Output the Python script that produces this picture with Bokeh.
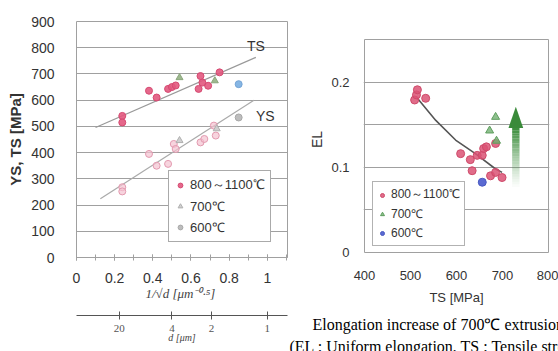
import numpy as np
from bokeh.plotting import figure
from bokeh.layouts import row
from bokeh.models import (Range1d, FixedTicker, LinearAxis, Legend, LegendItem,
                          Label, Title)
from bokeh.embed import file_html
from bokeh.resources import INLINE

# ---------------- data: left panel (strength vs 1/sqrt(d)) ----------------
X_TICKS = [0, 0.2, 0.4, 0.6, 0.8, 1]
X_TICK_LABELS = ["0", "0.2", "0.4", "0.6", "0.8", "1"]
Y_TICKS = [0, 100, 200, 300, 400, 500, 600, 700, 800, 900]
D_TICKS = [20, 4, 2, 1]          # grain size d [um] on the secondary axis

TS_800_X = [0.24, 0.24, 0.38, 0.42, 0.48, 0.50, 0.52, 0.64, 0.66, 0.65, 0.69, 0.75]
TS_800_Y = [540, 515, 636, 610, 643, 650, 656, 643, 667, 692, 655, 706]
TS_700_X = [0.54, 0.725]
TS_700_Y = [686, 674]
TS_600_X = [0.85]
TS_600_Y = [661]

YS_800_X = [0.24, 0.24, 0.38, 0.42, 0.48, 0.51, 0.52, 0.65, 0.67, 0.72, 0.73]
YS_800_Y = [268, 252, 395, 350, 357, 433, 414, 439, 452, 503, 465]
YS_700_X = [0.54, 0.735]
YS_700_Y = [446, 491]
YS_600_X = [0.85]
YS_600_Y = [534]

TS_FIT_X = [0.10, 0.94]
TS_FIT_Y = [496, 763]
YS_FIT_X = [0.125, 0.93]
YS_FIT_Y = [224, 600]

# ---------------- data: right panel (EL vs TS) ----------------
TS_MIN, TS_MAX = 400, 800
EL_MIN, EL_MAX = 0.0, 0.25
TS_AX_TICKS = [400, 500, 600, 700, 800]
EL_TICKS = [0, 0.1, 0.2]
EL_TICK_LABELS = ["0", "0.1", "0.2"]
EL_GRID = [0.05, 0.1, 0.15, 0.2]

EL_800_TS = [509, 513, 515, 533, 609, 630, 634, 645, 656, 659, 665, 674, 685, 685, 699]
EL_800_EL = [0.179, 0.185, 0.191, 0.181, 0.116, 0.109, 0.096, 0.114, 0.114, 0.122,
             0.124, 0.090, 0.128, 0.094, 0.088]
EL_700_TS = [672, 685, 687]
EL_700_EL = [0.143, 0.159, 0.131]
EL_600_TS = [656]
EL_600_EL = [0.0825]

EL_FIT_TS = [515, 555, 598, 641, 685, 699]
EL_FIT_EL = [0.181, 0.155, 0.132, 0.116, 0.098, 0.094]

ARROW_TS = 729
ARROW_EL_BOTTOM = 0.074
ARROW_EL_HEAD = 0.146
ARROW_EL_TOP = 0.171

LEG = ["800～1100℃", "700℃", "600℃"]
CAPTION_1 = "Elongation increase of 700℃ extrusion"
CAPTION_2 = "(EL : Uniform elongation, TS : Tensile strength)"

SANS = "Liberation Sans"
SERIF = "Liberation Serif"
GRID = "#a0a0a0"
TXT = "#333333"

# shared vertical layout of both canvases (frames 21..257 on the page)
H, TOP, BOTTOM = 351, 21, 94

# =================== left figure ===================
p1 = figure(width=288, height=H, x_range=Range1d(0, 1.106), y_range=Range1d(0, 900),
            output_backend="svg", toolbar_location=None, title=None,
            min_border_left=76, min_border_right=1, min_border_top=TOP,
            min_border_bottom=BOTTOM)
p1.outline_line_color = GRID
p1.xgrid.visible = False
p1.ygrid.ticker = FixedTicker(ticks=Y_TICKS[1:])
p1.ygrid.grid_line_color = GRID

ya = p1.yaxis[0]
ya.ticker = FixedTicker(ticks=Y_TICKS)
ya.axis_line_color = None
ya.major_tick_line_color = None
ya.minor_tick_line_color = None
ya.major_label_standoff = 16
ya.major_label_text_font = SANS
ya.major_label_text_font_size = "14px"
ya.major_label_text_color = TXT
ya.axis_label = "YS, TS [MPa]"
ya.axis_label_text_font = SANS
ya.axis_label_text_font_size = "15px"
ya.axis_label_text_font_style = "bold"
ya.axis_label_text_color = TXT
ya.axis_label_standoff = 4

xa = p1.xaxis[0]
xa.ticker = FixedTicker(ticks=X_TICKS, minor_ticks=[round(0.1 * i, 1) for i in range(12)])
xa.major_label_overrides = dict(zip(X_TICKS, X_TICK_LABELS))
xa.axis_line_color = GRID
xa.major_tick_line_color = GRID
xa.minor_tick_line_color = GRID
xa.major_tick_in = 3
xa.major_tick_out = 3
xa.minor_tick_in = 3
xa.minor_tick_out = 3
xa.major_label_standoff = 12
xa.major_label_text_font = SANS
xa.major_label_text_font_size = "14px"
xa.major_label_text_color = TXT
xa.axis_label = "1/√d  [μm⁻⁰·⁵]"
xa.axis_label_text_font = SERIF
xa.axis_label_text_font_size = "13px"
xa.axis_label_text_font_style = "italic"
xa.axis_label_text_color = "#444444"
xa.axis_label_standoff = 0

spacer = LinearAxis(ticker=FixedTicker(ticks=[]), axis_line_color=None,
                    major_tick_line_color=None, minor_tick_line_color=None,
                    major_tick_out=0, major_label_standoff=0,
                    axis_label=" ", axis_label_text_font_size="8px",
                    axis_label_standoff=0)
p1.add_layout(spacer, "below")

d_pos = [1 / np.sqrt(d) for d in D_TICKS]
da = LinearAxis(ticker=FixedTicker(ticks=d_pos, minor_ticks=[]))
da.major_label_overrides = {pos: str(d) for pos, d in zip(d_pos, D_TICKS)}
da.axis_line_color = "#555555"
da.major_tick_line_color = "#555555"
da.major_tick_in = 4
da.major_tick_out = 4
da.major_label_standoff = 5
da.major_label_text_font = SERIF
da.major_label_text_font_size = "11px"
da.major_label_text_color = "#555555"
da.axis_label = "d [μm]"
da.axis_label_text_font = SERIF
da.axis_label_text_font_size = "10px"
da.axis_label_text_font_style = "italic"
da.axis_label_text_color = "#444444"
da.axis_label_standoff = -3
p1.add_layout(da, "below")

p1.line(TS_FIT_X, TS_FIT_Y, line_color="#999999", line_width=1.2)
p1.line(YS_FIT_X, YS_FIT_Y, line_color="#aaaaaa", line_width=1.2)

r_ys800 = p1.scatter(YS_800_X, YS_800_Y, marker="circle", size=7, fill_color="#f3c2d0",
                     line_color="#e39ab0", fill_alpha=0.7)
r_ys700 = p1.scatter(YS_700_X, YS_700_Y, marker="triangle", size=7, fill_color="#d0d0d0",
                     line_color="#b0b0b0")
r_ys600 = p1.scatter(YS_600_X, YS_600_Y, marker="circle", size=7, fill_color="#bdbdbd",
                     line_color="#a8a8a8")
r_ts800 = p1.scatter(TS_800_X, TS_800_Y, marker="circle", size=7, fill_color="#e2587e",
                     line_color="#d64a72", fill_alpha=0.9)
p1.scatter(TS_700_X, TS_700_Y, marker="triangle", size=7, fill_color="#9db88e",
           line_color="#8aa67c")
p1.scatter(TS_600_X, TS_600_Y, marker="circle", size=7, fill_color="#86b6e4",
           line_color="#74a4d6")

p1.add_layout(Label(x=TS_FIT_X[-1], y=807, text="TS", text_font=SANS,
                    text_font_size="14px", text_color=TXT, text_align="center",
                    text_baseline="middle"))
p1.add_layout(Label(x=0.99, y=541, text="YS", text_font=SANS,
                    text_font_size="14px", text_color=TXT, text_align="center",
                    text_baseline="middle"))

leg1 = Legend(items=[LegendItem(label=LEG[0], renderers=[r_ts800]),
                     LegendItem(label=LEG[1], renderers=[r_ys700]),
                     LegendItem(label=LEG[2], renderers=[r_ys600])],
              location=(92, 15), orientation="vertical",
              label_text_font=SANS, label_text_font_size="13px", label_text_color=TXT,
              label_height=18, glyph_height=14, glyph_width=12, spacing=3, padding=5,
              margin=0, label_standoff=4, border_line_color="#555555",
              background_fill_color="white", background_fill_alpha=1)
p1.add_layout(leg1, "center")

# =================== right figure ===================
# the EL box sits 18 px below the shared frame top and 5 px above its bottom
EL_PX = 852.0                     # pixels per unit EL
TS_PX = 0.46                      # pixels per MPa
y_lo = EL_MIN - 5 / EL_PX
y_hi = EL_MAX + 18 / EL_PX
x_lo = TS_MIN - 1 / TS_PX
x_hi = TS_MAX + 1 / TS_PX

p2 = figure(width=270, height=H, x_range=Range1d(x_lo, x_hi), y_range=Range1d(y_lo, y_hi),
            output_backend="svg", toolbar_location=None, title=None,
            min_border_left=75, min_border_right=9, min_border_top=TOP,
            min_border_bottom=BOTTOM)
p2.outline_line_color = None
p2.xgrid.visible = False
p2.ygrid.ticker = FixedTicker(ticks=EL_GRID)
p2.ygrid.grid_line_color = GRID
p2.quad(left=[TS_MIN], right=[TS_MAX], bottom=[EL_MIN], top=[EL_MAX],
        fill_color=None, line_color=GRID, line_width=1)

ya2 = p2.yaxis[0]
ya2.ticker = FixedTicker(ticks=EL_TICKS)
ya2.major_label_overrides = dict(zip(EL_TICKS, EL_TICK_LABELS))
ya2.axis_line_color = None
ya2.major_tick_line_color = None
ya2.minor_tick_line_color = None
ya2.major_label_standoff = 8
ya2.major_label_text_font = SANS
ya2.major_label_text_font_size = "13px"
ya2.major_label_text_color = TXT
ya2.axis_label = "EL"
ya2.axis_label_text_font = SANS
ya2.axis_label_text_font_size = "14px"
ya2.axis_label_text_font_style = "normal"
ya2.axis_label_text_color = TXT
ya2.axis_label_standoff = 3

xa2 = p2.xaxis[0]
xa2.ticker = FixedTicker(ticks=TS_AX_TICKS, minor_ticks=[])
xa2.axis_line_color = None
xa2.major_tick_line_color = None
xa2.major_tick_out = 0
xa2.major_label_standoff = 13
xa2.major_label_text_font = SANS
xa2.major_label_text_font_size = "13px"
xa2.major_label_text_color = TXT
xa2.axis_label = "TS [MPa]"
xa2.axis_label_text_font = SANS
xa2.axis_label_text_font_size = "13px"
xa2.axis_label_text_font_style = "normal"
xa2.axis_label_text_color = TXT
xa2.axis_label_standoff = 7

p2.add_layout(Title(text=CAPTION_1, align="left", offset=-51, standoff=13,
                    text_font=SERIF, text_font_size="16px", text_font_style="normal",
                    text_color="black"), "below")
p2.add_layout(Title(text=CAPTION_2, align="left", offset=-74, standoff=-7,
                    text_font=SERIF, text_font_size="16px", text_font_style="normal",
                    text_color="black"), "below")

# gradient arrow (700C improvement)
n = 24
edges = np.linspace(ARROW_EL_BOTTOM, ARROW_EL_HEAD, n + 1)
half_shaft = 8
p2.quad(left=[ARROW_TS - half_shaft] * n, right=[ARROW_TS + half_shaft] * n,
        bottom=edges[:-1], top=edges[1:], fill_color="#3f8f3f",
        fill_alpha=list(np.linspace(0.0, 1.0, n) ** 1.2), line_color=None)
p2.patch([ARROW_TS - 16, ARROW_TS + 16, ARROW_TS],
         [ARROW_EL_HEAD, ARROW_EL_HEAD, ARROW_EL_TOP],
         fill_color="#3a8a3a", line_color=None)

p2.line(EL_FIT_TS, EL_FIT_EL, line_color="#555555", line_width=1.6)

r800 = p2.scatter(EL_800_TS, EL_800_EL, marker="circle", size=8, fill_color="#db5274",
                  line_color="#cf4a6a", fill_alpha=0.85)
r700 = p2.scatter(EL_700_TS, EL_700_EL, marker="triangle", size=8, fill_color="#72b072",
                  line_color="#5e9e5e", fill_alpha=0.8)
r600 = p2.scatter(EL_600_TS, EL_600_EL, marker="circle", size=8, fill_color="#5a6ad2",
                  line_color="#4a5ac2")

leg2 = Legend(items=[LegendItem(label=LEG[0], renderers=[r800]),
                     LegendItem(label=LEG[1], renderers=[r700]),
                     LegendItem(label=LEG[2], renderers=[r600])],
              location=(9, 11), orientation="vertical",
              label_text_font=SANS, label_text_font_size="12px", label_text_color=TXT,
              label_height=14, glyph_height=12, glyph_width=10, spacing=2, padding=4,
              margin=0, label_standoff=4, border_line_color="#666666",
              background_fill_color="white", background_fill_alpha=1)
p2.add_layout(leg2, "center")

layout = row(p1, p2, spacing=0)
html = file_html(layout, INLINE)
html = html.replace("<head>", "<head><style>html,body{overflow:hidden;}</style>", 1)
open("out.html", "w").write(html)
